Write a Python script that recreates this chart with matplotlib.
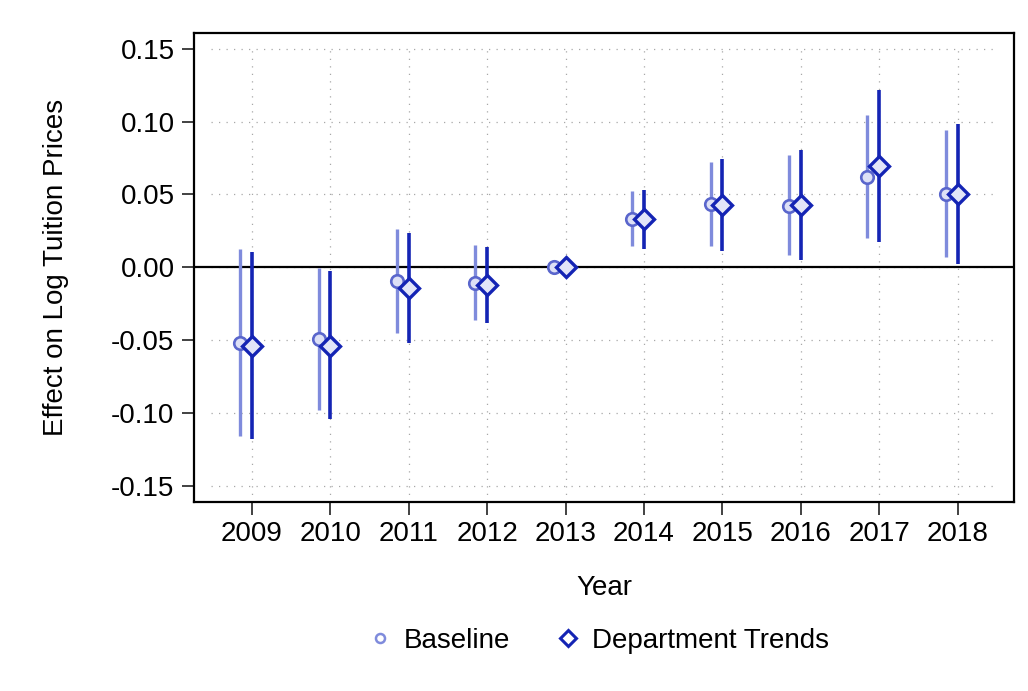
import numpy as np
import matplotlib
matplotlib.use("Agg")
import matplotlib.pyplot as plt

plt.rcParams['font.family'] = ['Liberation Sans', 'DejaVu Sans']

years = [2009, 2010, 2011, 2012, 2013, 2014, 2015, 2016, 2017, 2018]

# Baseline estimates and 95% CI
base_est = [-0.0518, -0.049, -0.0094, -0.0105, 0.0, 0.0329, 0.0434, 0.0422, 0.0623, 0.0502]
base_lo = [-0.116, -0.098, -0.045, -0.0358, 0.0, 0.0144, 0.0146, 0.0082, 0.0203, 0.0071]
base_hi = [0.0128, -0.0005, 0.0262, 0.015, 0.0, 0.0523, 0.0724, 0.0769, 0.1048, 0.0943]

# Department trends estimates and 95% CI
dept_est = [-0.054, -0.054, -0.0142, -0.0123, 0.0, 0.033, 0.0425, 0.0425, 0.0694, 0.0502]
dept_lo = [-0.118, -0.104, -0.052, -0.038, 0.0, 0.0128, 0.011, 0.0048, 0.0173, 0.0025]
dept_hi = [0.0105, -0.0025, 0.0238, 0.0137, 0.0, 0.0532, 0.0745, 0.0804, 0.1217, 0.0984]

yticks = [-0.15, -0.10, -0.05, 0.00, 0.05, 0.10, 0.15]

light = '#7f8bdc'
dark = '#1424b4'
fs = 20

fig = plt.figure(figsize=(10.28, 6.91), dpi=100)
ax = fig.add_axes([0.1887, 0.2735, 0.9864 - 0.1887, 0.9527 - 0.2735])

yrs = np.array(years, dtype=float)
xb = yrs - 0.15

# dotted grid
for yv in yticks:
    ax.plot([2008.48, 2018.5], [yv, yv], color='#a8a8a8', lw=0.9, ls=(0, (1, 5)), zorder=0)
for xv in years:
    ax.plot([xv, xv], [-0.161, 0.15], color='#a8a8a8', lw=0.9, ls=(0, (1, 5)), zorder=0)

ax.axhline(0, color='black', lw=1.6, zorder=1)

ax.vlines(xb, base_lo, base_hi, color=light, lw=2.4, zorder=2)
ax.vlines(yrs, dept_lo, dept_hi, color=dark, lw=2.6, zorder=2)

ax.plot(xb, base_est, 'o', ms=9, mfc='#dde0f6', mec='#5a66cc', mew=1.9, ls='none', zorder=3)
ax.plot(yrs, dept_est, 'D', ms=10.5, mfc='#e2e5f8', mec=dark, mew=2.4, ls='none', zorder=4)

ax.set_xlim(2008.26, 2018.72)
ax.set_ylim(-0.161, 0.161)
ax.set_xticks(years)
ax.set_xticklabels([str(y) for y in years])
ax.set_yticks(yticks)
ax.set_yticklabels(['%.2f' % v for v in yticks])
ax.tick_params(axis='both', labelsize=fs, length=9, width=1.3, direction='out', pad=5,
               color='#333333')

for sp in ax.spines.values():
    sp.set_linewidth(1.6)
    sp.set_color('black')

ax.set_ylabel('Effect on Log Tuition Prices', fontsize=fs, labelpad=30)
ax.set_xlabel('Year', fontsize=fs, labelpad=20)

h1, = ax.plot([], [], 'o', ms=6.5, mfc='white', mec=light, mew=1.8, ls='none')
h2, = ax.plot([], [], 'D', ms=8, mfc='white', mec=dark, mew=2.2, ls='none')
fig.legend([h1, h2], ['Baseline', 'Department Trends'], loc='center',
           bbox_to_anchor=(0.581, 0.073), ncol=2, frameon=False, fontsize=fs,
           handletextpad=0.35, columnspacing=1.6, handlelength=1.0)

fig.savefig('out.png', dpi=100, facecolor='white')
